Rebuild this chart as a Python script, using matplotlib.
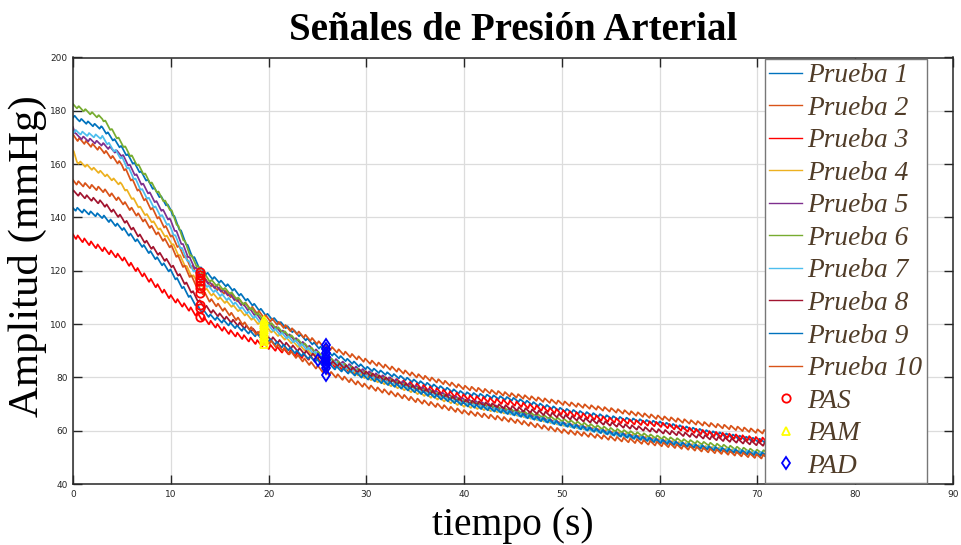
import numpy as np
import matplotlib
matplotlib.use("Agg")
import matplotlib.pyplot as plt

# cuff pressure (mmHg) read at these times (s) for every trial
t_knots = [0, 0.4, 3, 5, 7, 10, 12, 13, 14, 16, 20, 26, 30, 35, 40, 45, 50, 55, 60, 65, 70, 73]

prueba_1 = [178, 177, 173.5, 166, 156.6, 142.9, 127, 121, 118, 114, 103, 89.5, 83.5, 78.5, 74, 71.8, 67.9, 65, 62.9, 59.5, 56.5, 55.5]
prueba_2 = [170.5, 169.5, 165.3, 159.7, 148.5, 133.5, 122, 118, 114.8, 111, 102, 91.3, 86.2, 80.8, 76.2, 73.3, 70.4, 67.8, 64.9, 62.3, 59.8, 58.8]
prueba_3 = [133.5, 132.5, 128.2, 124.8, 119, 110, 105.5, 102.7, 100.5, 97, 91.5, 85.5, 81, 77, 72.7, 70.3, 66.9, 64, 62.3, 59, 56.7, 55.8]
prueba_4 = [165, 161, 156.6, 152.2, 142.9, 131, 119, 115, 111.6, 107.5, 98, 86, 80, 74.5, 69.5, 66.5, 62.5, 59.3, 56.3, 53.5, 51.3, 50.5]
prueba_5 = [174, 170.5, 167.5, 163.5, 152.9, 138.5, 124, 118.5, 115.1, 111, 100, 87.5, 82, 76.5, 71.5, 67.5, 63, 59.5, 56.5, 53.5, 51, 50.2]
prueba_6 = [182.2, 181.5, 177.2, 167.8, 157.8, 142.9, 126, 120, 116.4, 112, 100.5, 87, 81.5, 76, 71, 67.5, 64, 60.5, 57.5, 55, 52.3, 51.5]
prueba_7 = [172.6, 172, 170, 162.2, 150.4, 136, 122, 117, 113.4, 109, 99, 86.5, 81, 75.5, 70.5, 66.5, 62.5, 59, 56, 53.5, 51.5, 50.7]
prueba_8 = [149.5, 149, 145.4, 139.8, 132.3, 122.3, 113, 108, 105.1, 101.5, 95, 86, 81.5, 76, 71, 68.5, 65.4, 62.5, 59.8, 57.5, 55.2, 54.3]
prueba_9 = [143.5, 143, 140.4, 136, 129.8, 119.7, 110, 105.5, 103, 100, 94, 84.5, 80, 75, 70, 66.5, 62.5, 59, 56, 53.5, 51.3, 50.5]
prueba_10 = [153.7, 153, 150.4, 146, 139.8, 129.1, 118, 113, 109, 104, 93.5, 81.8, 76.7, 71.5, 67, 63.8, 59.9, 57.2, 55, 52.6, 50.4, 49.8]

pruebas = [prueba_1, prueba_2, prueba_3, prueba_4, prueba_5,
           prueba_6, prueba_7, prueba_8, prueba_9, prueba_10]
labels = [f"Prueba {i}" for i in range(1, 11)]

# pulse oscillations riding on the cuff pressure
beat_period = 0.68           # s
pulse_amp = [1.2, 1.5, 1.8, 1.2, 1.3, 1.2, 1.3, 1.5, 1.4, 1.6]   # mmHg peak to peak
beat_offset = [0.0, 0.3, 0.55, 0.15, 0.7, 0.4, 0.85, 0.2, 0.6, 0.45]

# systolic / mean / diastolic points picked on each trial
pas_t = [13.0] * 10
pas_val = [119.7, 118.5, 117.3, 116.0, 114.8, 113.5, 111.6, 107.3, 106.0, 102.7]
pam_t = [19.5] * 10
pam_val = [101.6, 100.5, 99.5, 98.6, 97.6, 96.5, 95.5, 94.5, 93.5, 92.6]
pad_t = [25.9, 25.9, 25.9, 25.9, 25.9, 25.9, 25.9, 25.9, 25.9, 25.1]
pad_val = [92.0, 90.8, 89.2, 87.8, 86.5, 85.5, 84.5, 83.5, 81.0, 86.7]

colors = ["#0072BD", "#D95319", "#FF0000", "#EDB120", "#7E2F8E",
          "#77AC30", "#4DBEEE", "#A2142F", "#0072BD", "#D95319"]

fig = plt.figure(figsize=(9.62, 5.45), dpi=100)
ax = fig.add_axes([73 / 962, 1 - 484 / 545, 880 / 962, 426.5 / 545])

t = np.arange(0, 73, 0.04)
for vals, amp, off, c, lab in zip(pruebas, pulse_amp, beat_offset, colors, labels):
    base = np.interp(t, t_knots, vals)
    phase = (t / beat_period + off) % 1.0
    wave = np.where(phase < 0.25, phase / 0.25, 1 - (phase - 0.25) / 0.75)
    ax.plot(t, base + amp * (wave - 0.5), color=c, lw=1.25, label=lab)

ax.plot(pas_t, pas_val, "o", ls="none", mfc="none", mec="#FF0000", mew=1.3, ms=6, label="PAS")
ax.plot(pam_t, pam_val, "^", ls="none", mfc="none", mec="#FFFF00", mew=1.3, ms=6, label="PAM")
ax.plot(pad_t, pad_val, "d", ls="none", mfc="none", mec="#0000FF", mew=1.3, ms=6.5, label="PAD")

ax.set_xlim(0, 90)
ax.set_ylim(40, 200)
ax.set_xticks(range(0, 91, 10))
ax.set_yticks(range(40, 201, 20))
ax.grid(True, color="#dcdcdc", lw=0.9)
ax.set_axisbelow(True)
ax.tick_params(direction="in", length=6.5, width=1, colors="#262626",
               labelsize=6.5, top=True, right=True, pad=4)
for s in ax.spines.values():
    s.set_color("#262626")
    s.set_linewidth(1.1)

ax.set_title("Señales de Presión Arterial", family="Liberation Serif",
             fontweight="bold", fontsize=28, pad=12.5)
ax.set_xlabel("tiempo (s)", family="Liberation Serif", fontsize=28.5, labelpad=6)
ax.set_ylabel("Amplitud (mmHg)", family="Liberation Serif", fontsize=30.8)
ax.yaxis.set_label_coords(-0.03, 0.535)

leg = ax.legend(loc="upper left", bbox_to_anchor=(765 / 962, 1 - 59 / 545),
                bbox_transform=fig.transFigure, borderaxespad=0,
                prop={"family": "Liberation Serif", "style": "italic", "size": 19.7},
                handlelength=1.2, handletextpad=0.2, labelspacing=0.27,
                borderpad=0.15, fancybox=False, framealpha=1,
                edgecolor="#777777", markerscale=1.0)
leg.get_frame().set_linewidth(1.0)
for txt in leg.get_texts():
    txt.set_color("#503C28")
for h in leg.legend_handles:
    if h.get_marker() in ("None", None, ""):
        h.set_linewidth(1.0)

fig.savefig("out.png", dpi=100)
